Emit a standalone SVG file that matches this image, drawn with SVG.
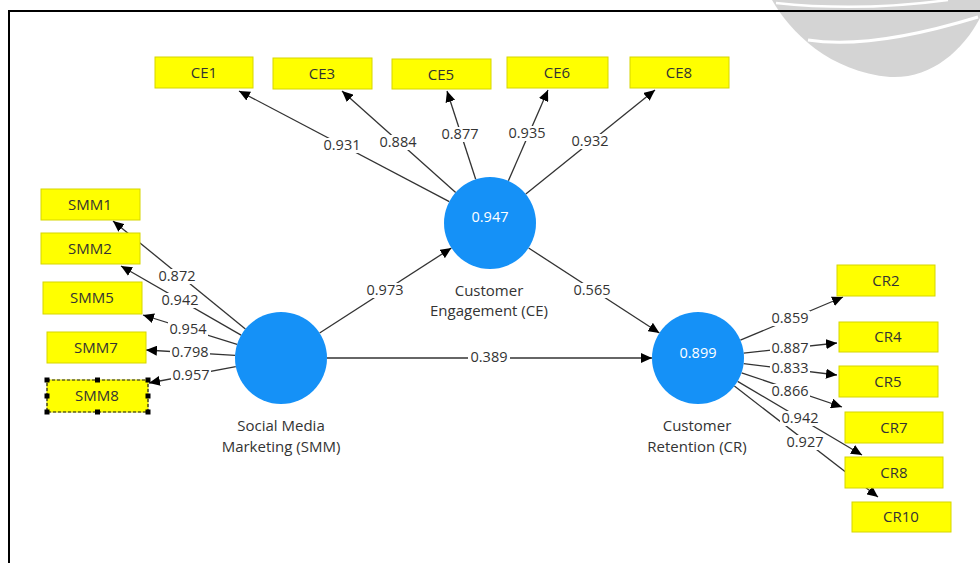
<svg xmlns="http://www.w3.org/2000/svg" width="980" height="563" viewBox="0 0 980 563">
<defs>
<style>
.ind rect.b{fill:#ffff00;stroke:#d6d600;stroke-width:1}
.ind text{font-family:"Open Sans","Noto Sans","Liberation Sans",sans-serif;font-size:15px;fill:#333;text-anchor:middle}
.lv circle{fill:#1591f7}
.lv text.v{font-family:"Open Sans","Noto Sans","Liberation Sans",sans-serif;font-size:14.5px;fill:#fff;text-anchor:middle}
.lv text.n{font-family:"Open Sans","Noto Sans","Liberation Sans",sans-serif;font-size:15px;fill:#333;text-anchor:middle}
.edge line{stroke:#333;stroke-width:1.3;marker-end:url(#ah)}
.lbl rect{fill:#fff}
.lbl text{font-family:"Open Sans","Noto Sans","Liberation Sans",sans-serif;font-size:14.5px;fill:#333;text-anchor:middle}
.h{fill:#000}
</style>
<marker id="ah" markerUnits="userSpaceOnUse" markerWidth="12" markerHeight="10" refX="11" refY="5" orient="auto">
<path d="M0,0 L11,5 L0,10 z" fill="#000"/>
</marker>
</defs>
<rect width="980" height="563" fill="#fff"/>
<g id="watermark">
<path d="M772,0 C790,32 830,72 890,77 C930,79 962,52 980,18 L980,0 Z" fill="#d4d4d4"/>
<path d="M776,3 Q860,12 948,0" fill="none" stroke="#fff" stroke-width="2.5"/>
<path d="M808,40 Q870,50 978,17" fill="none" stroke="#fff" stroke-width="3"/>
</g>
<g id="frame" stroke="#000" stroke-width="2" fill="none">
<path d="M9,563 L9,11 L980,11"/>
</g>
<g id="connectors">
<g class="edge">
<line x1="245.4" y1="328.9" x2="113" y2="221"/>
<line x1="241.1" y1="335.1" x2="121" y2="266"/>
<line x1="237.1" y1="344.3" x2="143" y2="315"/>
<line x1="235.1" y1="355.3" x2="146" y2="350"/>
<line x1="235.8" y1="366.6" x2="149" y2="383"/>
<line x1="449.3" y1="201.6" x2="239" y2="91"/>
<line x1="455.7" y1="192.4" x2="342" y2="91"/>
<line x1="475.7" y1="179.3" x2="447" y2="91"/>
<line x1="508.4" y1="180.8" x2="548" y2="90"/>
<line x1="525.8" y1="194.1" x2="655" y2="90"/>
<line x1="740.4" y1="340.2" x2="843" y2="297"/>
<line x1="743.7" y1="353.1" x2="837" y2="343"/>
<line x1="743.7" y1="363.6" x2="837" y2="375"/>
<line x1="741.6" y1="372.8" x2="842" y2="407"/>
<line x1="737.6" y1="381.4" x2="862" y2="455"/>
<line x1="734.4" y1="386.1" x2="878" y2="497"/>
<line x1="319.6" y1="333" x2="451.4" y2="248"/>
<line x1="528.6" y1="248" x2="659.4" y2="333"/>
<line x1="327" y1="358" x2="652" y2="358"/>
</g>
<g class="lbl">
<rect x="157" y="269" width="40" height="15"/><text x="177" y="281">0.872</text>
<rect x="160" y="293" width="40" height="15"/><text x="180" y="305">0.942</text>
<rect x="168" y="322" width="40" height="15"/><text x="188" y="334">0.954</text>
<rect x="170" y="345" width="40" height="15"/><text x="190" y="357">0.798</text>
<rect x="171" y="368" width="40" height="15"/><text x="191" y="380">0.957</text>
<rect x="322" y="138" width="40" height="15"/><text x="342" y="150">0.931</text>
<rect x="378" y="135" width="40" height="15"/><text x="398" y="147">0.884</text>
<rect x="440" y="127" width="40" height="15"/><text x="460" y="139">0.877</text>
<rect x="507" y="126" width="40" height="15"/><text x="527" y="138">0.935</text>
<rect x="570" y="134" width="40" height="15"/><text x="590" y="146">0.932</text>
<rect x="770" y="311" width="40" height="15"/><text x="790" y="323">0.859</text>
<rect x="770" y="341" width="40" height="15"/><text x="790" y="353">0.887</text>
<rect x="770" y="361" width="40" height="15"/><text x="790" y="373">0.833</text>
<rect x="770" y="384" width="40" height="15"/><text x="790" y="396">0.866</text>
<rect x="780" y="411" width="40" height="15"/><text x="800" y="423">0.942</text>
<rect x="785" y="435" width="40" height="15"/><text x="805" y="447">0.927</text>
<rect x="365" y="283" width="40" height="15"/><text x="385" y="295">0.973</text>
<rect x="572" y="283" width="40" height="15"/><text x="592" y="295">0.565</text>
<rect x="468" y="350" width="42" height="15"/><text x="489" y="362">0.389</text>
</g>
</g>
<g id="CE1" class="ind"><rect class="b" x="155" y="57" width="98" height="31"/><text x="204" y="78">CE1</text></g>
<g id="CE3" class="ind"><rect class="b" x="273" y="58" width="99" height="31"/><text x="322" y="79">CE3</text></g>
<g id="CE5" class="ind"><rect class="b" x="392" y="59" width="99" height="30"/><text x="441" y="80">CE5</text></g>
<g id="CE6" class="ind"><rect class="b" x="507" y="57" width="101" height="31"/><text x="557" y="78">CE6</text></g>
<g id="CE8" class="ind"><rect class="b" x="630" y="57" width="99" height="31"/><text x="679" y="78">CE8</text></g>
<g id="SMM1" class="ind"><rect class="b" x="41" y="189" width="99" height="31"/><text x="90" y="210">SMM1</text></g>
<g id="SMM2" class="ind"><rect class="b" x="41" y="233" width="99" height="31"/><text x="90" y="254">SMM2</text></g>
<g id="SMM5" class="ind"><rect class="b" x="43" y="282" width="99" height="32"/><text x="92" y="303">SMM5</text></g>
<g id="SMM7" class="ind"><rect class="b" x="47" y="332" width="99" height="31"/><text x="96" y="353">SMM7</text></g>
<g id="SMM8" class="ind"><rect class="b" x="47" y="380" width="101" height="32"/><text x="97" y="401">SMM8</text>
<rect x="47" y="380" width="101" height="32" fill="none" stroke="#222" stroke-width="1.2" stroke-dasharray="3 2"/>
<rect class="h" x="44.5" y="377.5" width="5" height="5"/><rect class="h" x="95" y="377.5" width="5" height="5"/><rect class="h" x="145.5" y="377.5" width="5" height="5"/>
<rect class="h" x="44.5" y="393.5" width="5" height="5"/><rect class="h" x="145.5" y="393.5" width="5" height="5"/>
<rect class="h" x="44.5" y="409.5" width="5" height="5"/><rect class="h" x="95" y="409.5" width="5" height="5"/><rect class="h" x="145.5" y="409.5" width="5" height="5"/>
</g>
<g id="CR2" class="ind"><rect class="b" x="837" y="265" width="98" height="31"/><text x="886" y="286">CR2</text></g>
<g id="CR4" class="ind"><rect class="b" x="839" y="322" width="99" height="30"/><text x="888" y="342">CR4</text></g>
<g id="CR5" class="ind"><rect class="b" x="839" y="366" width="99" height="31"/><text x="888" y="387">CR5</text></g>
<g id="CR7" class="ind"><rect class="b" x="845" y="412" width="98" height="31"/><text x="894" y="433">CR7</text></g>
<g id="CR8" class="ind"><rect class="b" x="845" y="457" width="98" height="31"/><text x="894" y="478">CR8</text></g>
<g id="CR10" class="ind"><rect class="b" x="852" y="502" width="99" height="30"/><text x="901" y="522">CR10</text></g>
<g id="CE" class="lv"><circle cx="490" cy="223" r="46"/><text class="v" x="490" y="222">0.947</text>
<text class="n" x="489" y="296">Customer</text><text class="n" x="489" y="316">Engagement (CE)</text></g>
<g id="SMM" class="lv"><circle cx="281" cy="358" r="46"/>
<text class="n" x="281" y="431">Social Media</text><text class="n" x="281" y="452">Marketing (SMM)</text></g>
<g id="CR" class="lv"><circle cx="698" cy="358" r="46"/><text class="v" x="698" y="358">0.899</text>
<text class="n" x="697" y="431">Customer</text><text class="n" x="697" y="452">Retention (CR)</text></g>
</svg>
